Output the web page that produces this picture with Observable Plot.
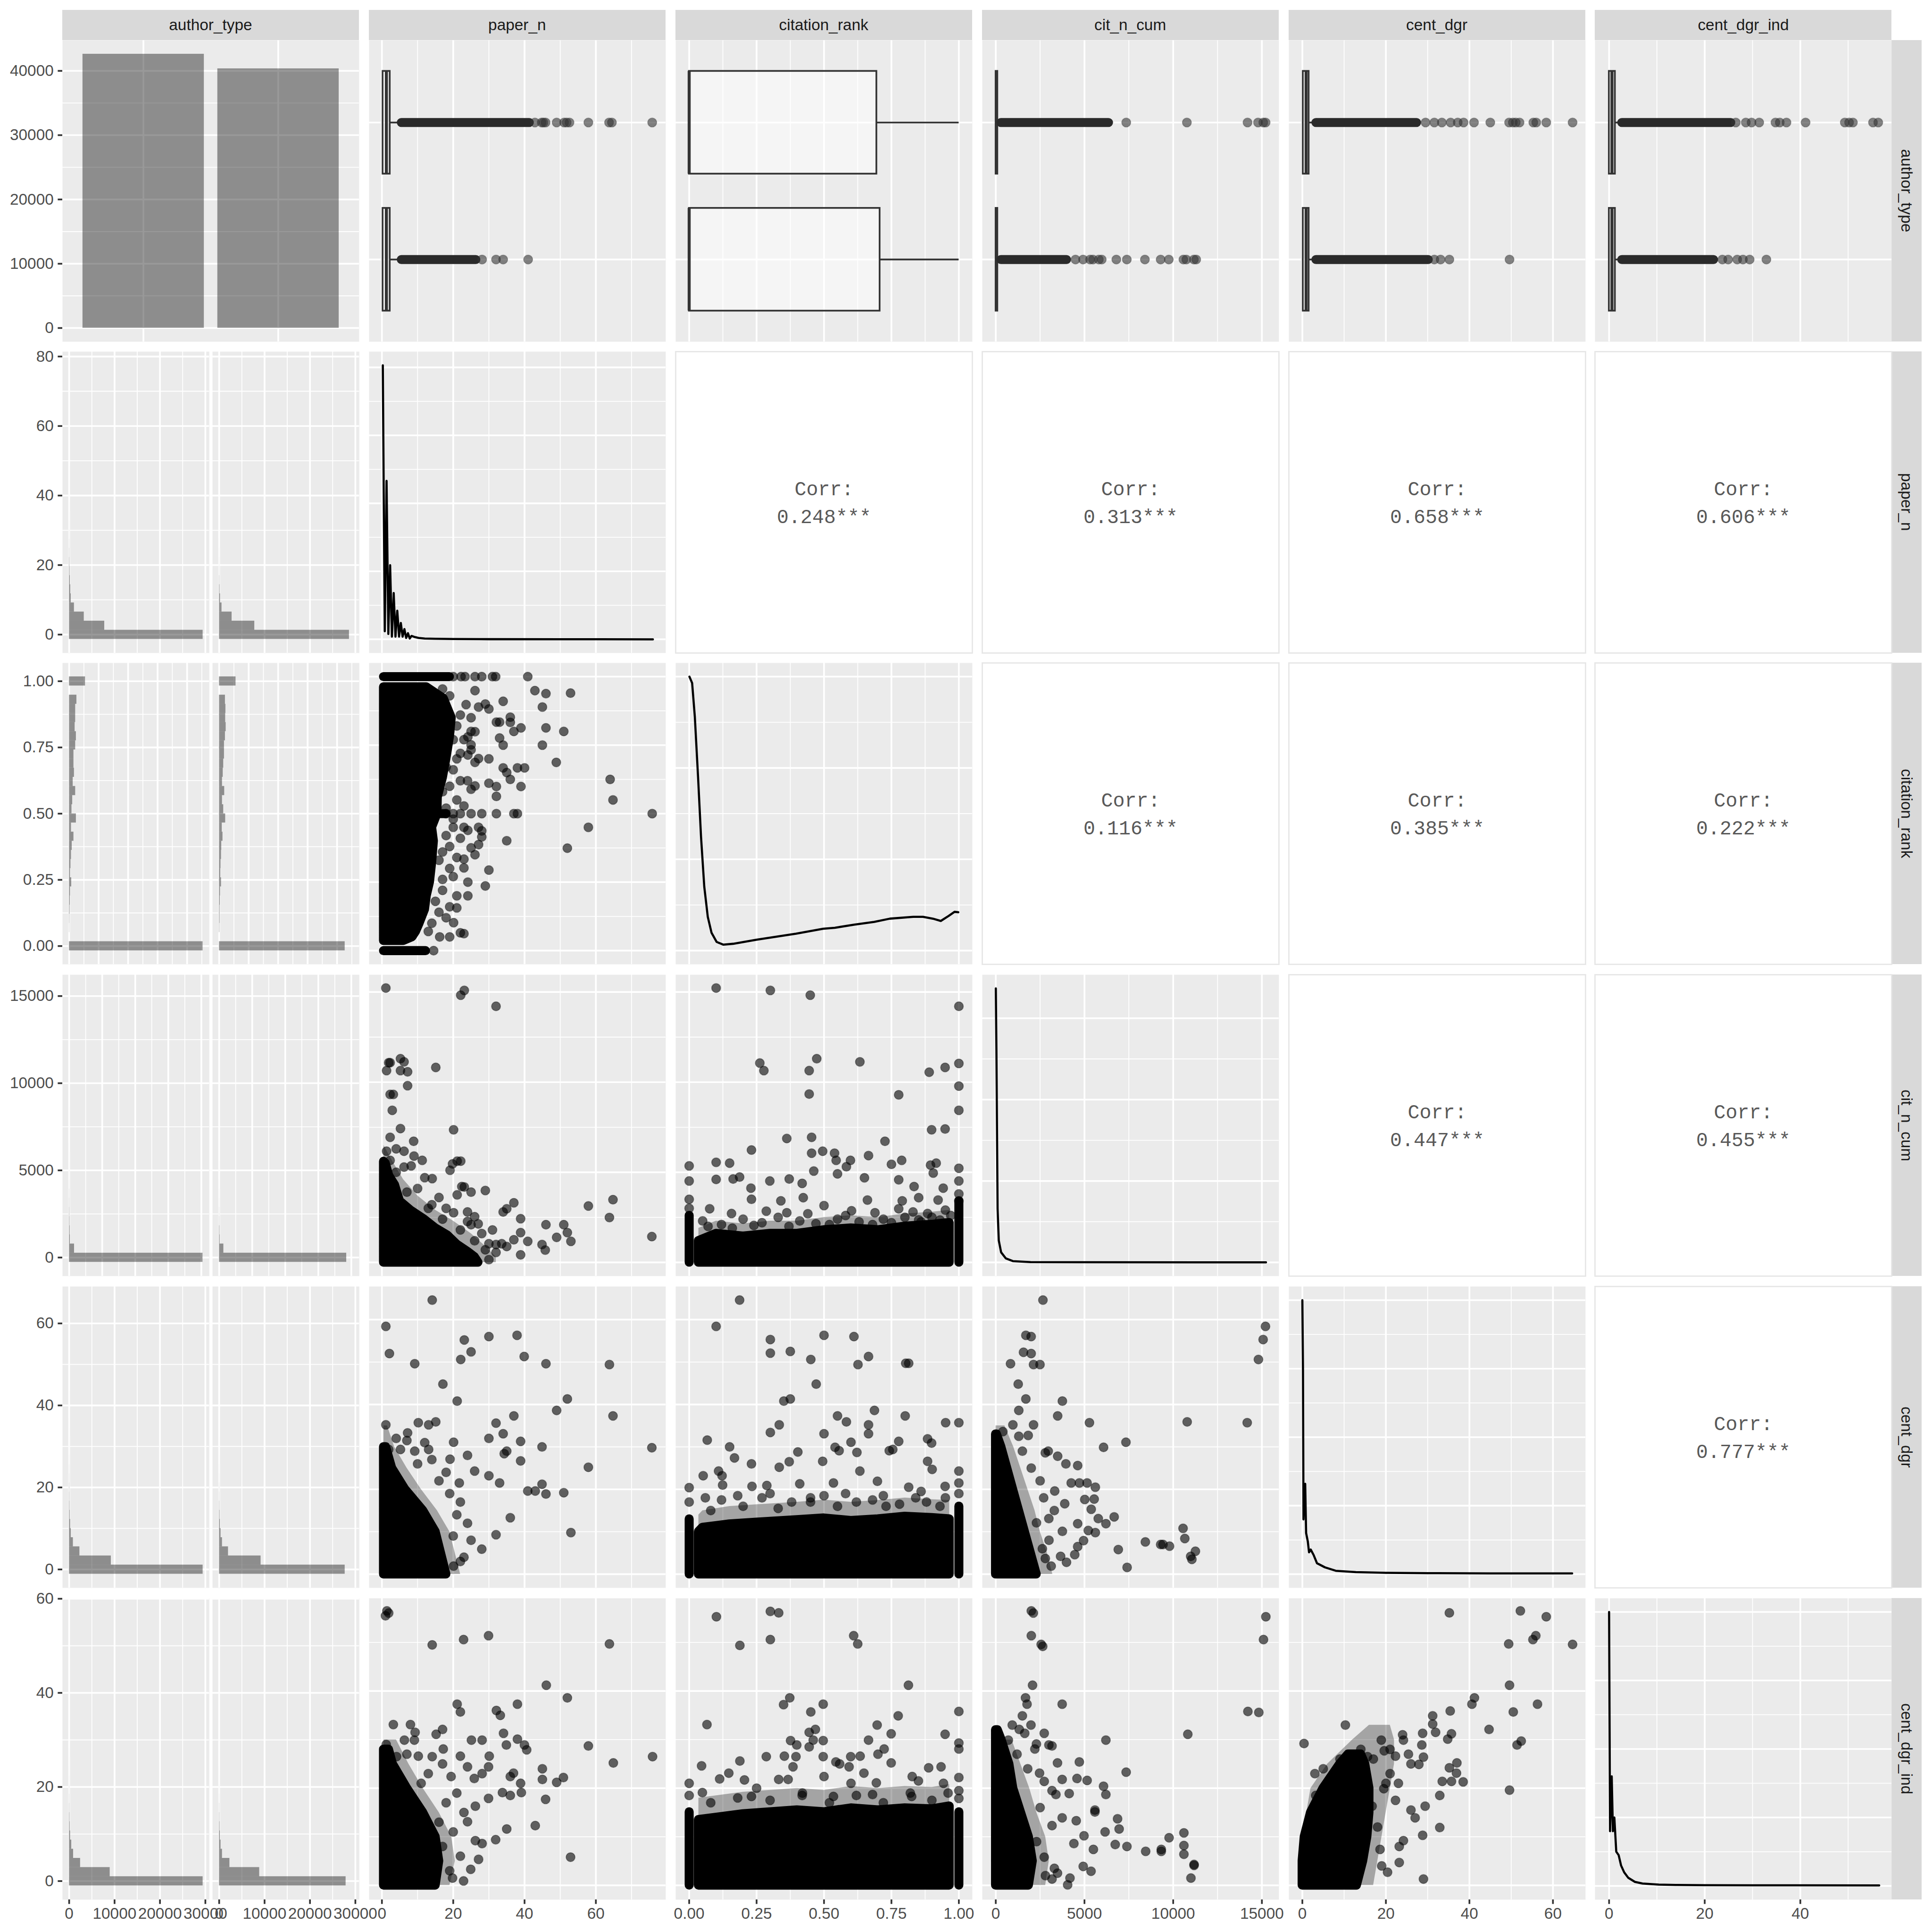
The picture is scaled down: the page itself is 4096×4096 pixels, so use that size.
<!DOCTYPE html>
<html><head><meta charset="utf-8">
<script src="https://cdn.jsdelivr.net/npm/d3@7"></script>
<script src="https://cdn.jsdelivr.net/npm/@observablehq/plot@0.6"></script>
<style>
html,body{margin:0;padding:0;background:#fff;}
#root{position:relative;width:4096px;height:4096px;background:#fff;overflow:hidden;font-family:"Liberation Sans",Arial,Helvetica,sans-serif;}
#root g[aria-label="x-axis tick label"], #root g[aria-label="y-axis tick label"]{fill:#4D4D4D;}
.strip{position:absolute;background:#D9D9D9;color:#1A1A1A;display:flex;align-items:center;justify-content:center;font-size:33.4px;line-height:1;}
.strip.v{writing-mode:vertical-rl;}
</style></head><body><div id="root"></div>
<script>
// ================= DATA =================
const variables = ["author_type","paper_n","citation_rank","cit_n_cum","cent_dgr","cent_dgr_ind"];
const authorTypes = ["type 1","type 2"];
const authorCounts = [42620, 40350];
const corrPairs = [[1,2],[1,3],[1,4],[1,5],[2,3],[2,4],[2,5],[3,4],[3,5],[4,5]];
const corrValues = [0.248, 0.313, 0.658, 0.606, 0.116, 0.385, 0.222, 0.447, 0.455, 0.777];

// tick labels / breaks
const ticks_count = [0,10000,20000,30000];
const ticks_count_bar = [0,10000,20000,30000,40000];
const ticks_pn = [0,20,40,60];
const ticks_pn_row = [0,20,40,60,80];
const ticks_cr = [0,0.25,0.5,0.75,1];
const ticks_cit = [0,5000,10000,15000];
const ticks_cd = [0,20,40,60];
const ticks_cdi = [0,20,40];
const ticks_cdi_row = [0,20,40,60];

// histogram bin widths (30 bins) and counts per author type
const binWidth = {paper_n: 2.621, citation_rank: 1/29, cit_n_cum: 525, cent_dgr: 2.228, cent_dgr_ind: 1.948};
const hist_paper_n = [
 [29450,7780,3270,1100,400,290,190,120,80,50,30,20,12,8,5,4,3,2,2,1,1,1,1,0,1,0,1,0,0,1],
 [28640,7790,2790,565,240,120,60,30,15,8,4,2,1,1,1,0,0,1,0,0,0,0,0,0,0,0,0,0,0,0]];
const hist_citation_rank = [
 [22670,0,33,54,96,138,180,389,180,263,347,472,765,347,1180,430,556,1060,640,850,765,765,1060,1180,970,1060,1060,1270,0,2730],
 [21330,0,59,100,100,142,184,351,226,268,351,393,602,477,1060,727,518,895,518,644,727,853,853,1020,1145,1060,1100,1020,0,2817]];
const hist_cit_n_cum = [
 [40430,1550,280,210,140,100,70,50,30,20,10,8,5,4,3,2,2,1,1,1,1,0,1,0,0,1,0,0,1,1],
 [38530,1340,210,140,70,40,20,10,5,3,2,1,1,1,0,1,0,0,1,0,0,1,0,0,0,0,0,0,0,0]];
const hist_cent_dgr = [
 [29450,9230,2310,870,410,260,150,100,70,50,35,25,15,10,8,5,4,3,2,2,1,1,1,1,0,1,0,0,1,1],
 [27700,9180,2000,670,360,200,120,70,40,25,15,10,5,3,2,1,1,0,1,0,0,0,1,0,0,0,0,0,0,0]];
const hist_cent_dgr_ind = [
 [29450,8980,2460,920,510,260,150,100,60,40,25,15,10,8,5,3,2,2,1,1,1,1,0,0,1,1,1,0,0,1],
 [27900,8870,2310,670,360,200,120,70,40,20,10,5,3,2,1,1,1,0,0,0,0,0,0,0,0,0,0,0,0,0]];

// boxplot stats per author type: [q1, median, q3, whiskerLow, whiskerHigh]
const box_paper_n = [[0.25,1.25,2.25,0.25,5.2],[0.25,1.25,2.25,0.25,5.2]];
const box_citation_rank = [[0,0,0.695,0,1],[0,0,0.707,0,1]];
const box_cit_n_cum = [[5,30,100,0,240],[5,30,100,0,240]];
const box_cent_dgr = [[0.16,0.9,1.56,0,3.0],[0.16,0.9,1.56,0,3.0]];
const box_cent_dgr_ind = [[0,0.6,1.26,0,2.4],[0,0.6,1.26,0,2.4]];
// runs of overlapping outliers [from, to] per author type
const boxrun_paper_n = [[5.5,41.4],[5.5,26.4]];
const boxrun_cit_n_cum = [[300,6368],[300,4001]];
const boxrun_cent_dgr = [[3.3,27.4],[3.3,30.2]];
const boxrun_cent_dgr_ind = [[2.7,25.5],[2.7,21.9]];
const boxrun_citation_rank = [];
// single outliers per author type
const boxout_paper_n = [[42.9,44.8,45.3,45.9,49,51.1,51.8,52.6,57.9,63.7,64.5,75.8],[28.1,32,34,41]];
const boxout_citation_rank = [[],[]];
const boxout_cit_n_cum = [[7354,10772,14190,14782,15078,15209],[4494,4922,5316,5480,5809,5974,6795,7387,8406,9293,9753,10575,10740,11167,11298]];
const boxout_cent_dgr = [[29.5,31.6,33.4,35.5,37.2,38.6,41.1,45,49.5,50.4,51.1,52,55.3,56,58.4,64.7],[31.6,33.1,35.2,49.6]];
const boxout_cent_dgr_ind = [[26.5,28.6,29.8,31.4,34.8,35.7,37.1,41.1,49.3,50.2,51,55.2,56.3],[23.7,24.9,26.8,28,29.4,32.9]];

// densities on the diagonal [x, density]
const dens_paper_n = [[0.25,4.03],[0.55,1.8],[0.8,0.12],[1.05,1.2],[1.3,2.33],[1.55,1.2],[1.8,0.08],[2.05,0.6],[2.3,1.09],[2.55,0.56],[2.8,0.04],[3.05,0.36],[3.3,0.68],[3.55,0.36],[3.8,0.04],[4.05,0.24],[4.3,0.42],[4.55,0.24],[4.8,0.04],[5.3,0.24],[5.8,0.04],[6.3,0.15],[6.8,0.02],[7.3,0.09],[7.8,0.012],[8.3,0.05],[9.3,0.032],[10.3,0.02],[12,0.012],[15,0.008],[20,0.004],[30,0.002],[50,0.001],[76,0]];
const dens_citation_rank = [[0.001,6.0],[0.011,5.86],[0.021,5.12],[0.033,3.8],[0.044,2.49],[0.056,1.4],[0.069,0.74],[0.083,0.39],[0.102,0.19],[0.127,0.13],[0.163,0.15],[0.25,0.24],[0.396,0.37],[0.497,0.48],[0.54,0.5],[0.613,0.57],[0.686,0.63],[0.744,0.7],[0.831,0.74],[0.867,0.74],[0.904,0.7],[0.933,0.65],[0.962,0.76],[0.984,0.85],[0.998,0.84]];
const dens_cit_n_cum = [[4,16.83],[37,13.06],[70,8.18],[103,3.3],[170,1.35],[302,0.62],[567,0.25],[966,0.08],[1961,0.02],[5000,0.01],[15232,0.005]];
const dens_cent_dgr = [[0,4],[0.15,3],[0.27,0.8],[0.5,1.2],[0.68,1.32],[0.9,0.6],[1.3,0.48],[1.6,0.32],[2,0.36],[2.7,0.28],[3.5,0.16],[5.4,0.1],[8,0.05],[12.8,0.03],[20,0.02],[30,0.015],[45,0.012],[64.6,0.012]];
const dens_cent_dgr_ind = [[0,4],[0.1,2.4],[0.2,0.8],[0.55,1.6],[0.8,0.8],[1.1,1.0],[1.5,0.5],[2,0.45],[2.5,0.3],[3.15,0.2],[4,0.12],[5.4,0.06],[7,0.035],[10.4,0.02],[13.9,0.015],[20,0.012],[30,0.01],[56.5,0.008]];
const densMax = {paper_n: 4.03, citation_rank: 6.0, cit_n_cum: 16.83, cent_dgr: 4, cent_dgr_ind: 4};
const densTicks = {paper_n: [[0,1,2,3,4],[0.5,1.5,2.5,3.5]], citation_rank: [[0,2,4,6],[1,3,5]], cit_n_cum: [[0,5,10,15],[2.5,7.5,12.5]], cent_dgr: [[0,1,2,3,4],[0.5,1.5,2.5,3.5]], cent_dgr_ind: [[0,1,2,3,4],[0.5,1.5,2.5,3.5]]};

// ---- scatter points [x, y] (lower triangle) ----
const pts_cr_pn = [[20,1],[22.2,1],[23.3,1],[26.1,1],[28,1],[31,1],[31.9,1],[40.9,1],[42.9,0.949],[46,0.938],[52.9,0.94],[26.1,0.949],[34,0.91],[45,0.889],[29,0.9],[30,0.882],[27.1,0.889],[23.6,0.898],[25,0.85],[36,0.852],[36,0.833],[32.1,0.834],[33,0.834],[39,0.813],[46,0.813],[51,0.8],[37,0.8],[33,0.776],[25,0.8],[26.1,0.799],[24.1,0.78],[25,0.751],[34,0.75],[45,0.75],[25,0.733],[24.1,0.714],[27.1,0.701],[30,0.7],[26.1,0.687],[48.9,0.687],[34,0.667],[38,0.667],[40,0.667],[35,0.65],[36,0.625],[64,0.625],[30,0.611],[32.1,0.599],[39,0.599],[26.1,0.601],[25,0.589],[32.1,0.563],[64.8,0.55],[23,0.528],[28,0.5],[32.1,0.5],[37,0.5],[38,0.5],[75.8,0.5],[25,0.5],[57.9,0.45],[27.1,0.45],[28,0.437],[24.1,0.439],[28,0.415],[35,0.401],[52,0.374],[27.1,0.387],[25,0.375],[26.1,0.35],[23,0.334],[30,0.294],[23,0.302],[29,0.236],[24.1,0.25],[24.1,0.2],[21,0.2],[21,0.156],[20.1,0.102],[23,0.062],[22,0.065],[19,0.05],[16.2,0.05],[14.5,0],[21,0.55],[22,0.62],[20,0.45],[19,0.3],[22,0.72],[21,0.82],[19,0.93],[17,0.955],[18,0.12],[17,0.26],[19,0.38],[20,0.66],[17,0.9],[18,0.85],[19,0.8],[20,0.77],[21,0.7],[18,0.67],[19,0.6],[17,0.58],[18,0.52],[20,0.48],[18,0.42],[17,0.36],[16,0.33],[17,0.22],[15,0.18],[16,0.14],[14,0.1],[13,0.07],[22,0.86],[23,0.77],[22,0.41],[21,0.34],[20,0.27],[19,0.16],[24,0.62],[23,0.45],[20,0.5],[22,0.5],[18,0.5]];
const pts_cit_pn = [[1.1,15222],[22.1,14825],[23.1,15090],[32,14209],[1.9,11081],[2.3,11081],[1.3,10640],[5.2,11301],[6.2,11125],[5.2,10640],[7.2,10574],[15.1,10816],[7.2,9803],[2.3,9319],[3.2,9319],[2.9,8438],[20.1,7358],[2.3,6940],[5.2,7424],[8.9,6720],[1.3,6169],[6.2,6169],[2.3,5662],[11.3,5662],[8.2,5354],[6.2,5288],[22.1,5618],[19.8,5464],[19.1,5112],[1.9,4561],[1.3,4076],[14.1,4649],[23.1,4186],[21.1,3746],[25,3900],[29,3988],[37,3305],[35,2975],[34,2799],[38.9,2424],[46,2093],[51,2093],[52,1653],[53,1169],[49,1389],[57.9,3129],[64.8,3481],[63.8,2490],[75.7,1433],[44.9,992],[45.8,684],[38.9,1653],[40.9,1169],[37,1257],[35,882],[32,992],[30,1036],[38.9,420],[32,552],[33.6,1036],[30,155],[26,2534],[25,2093],[24,2270],[27,2138],[20.1,2755],[22.4,4208],[21.1,5618],[4,6300],[9,5900],[12,4700],[16,3600],[18,3000],[10,4100],[14,3200],[28,1600],[31,1800],[22,1800],[26,1200],[29,700],[24,2800],[17,2400],[13,3000],[7,3900],[4,5000]];
const pts_cit_cr = [[0.1,15222],[0.301,15090],[0.449,14825],[1,14209],[0.262,11059],[0.277,10640],[0.445,10640],[0.473,11301],[0.633,11125],[0.445,9341],[0.777,9297],[0.89,10552],[0.949,10816],[1,11037],[1,9781],[1,8438],[0.899,7358],[0.949,7402],[0.362,6874],[0.726,6720],[0.454,6940],[0.454,6059],[0.231,6235],[0.495,6169],[0.539,6059],[0.545,5662],[0.598,5662],[0.665,5926],[0.788,5662],[0.916,5508],[0.905,4957],[0.895,5398],[0.75,5442],[0.583,5310],[0.462,5068],[0.1,5552],[0.15,5508],[0.1,4605],[0,5354],[0,4517],[0.187,4737],[0.163,4627],[0.229,4120],[0.371,4627],[0.419,4384],[0.55,4913],[0.65,4693],[0.777,4583],[0.834,4208],[0.942,4120],[1,5222],[1,4517],[1,3415],[0.299,4517],[0.231,3503],[0.34,3415],[0.423,3591],[0.5,3151],[0.661,3459],[0.79,3415],[0.851,3591],[0.923,3459],[0.602,2865],[0.362,2755],[0.076,2975],[0.157,2711],[0.689,2755],[0.777,2975],[0.884,2711],[0.851,2358],[0.286,2843],[0.05,2300],[0.12,2100],[0.2,2400],[0.27,2200],[0.33,2500],[0.41,2300],[0.47,2150],[0.55,2400],[0.63,2250],[0.72,2400],[0.8,2500],[0.86,2250],[0.93,2350],[0.97,2600],[0,3000],[0,3500],[1,3800],[0.07,2000],[0.16,1900],[0.24,2050],[0.37,2000],[0.44,2700],[0.52,2100],[0.58,2600],[0.68,2100],[0.75,2200],[0.83,2800],[0.9,2500],[0.95,2900]];
const pts_cd_pn = [[14.1,64.6],[1.1,58.4],[2.1,52],[9.2,49.6],[23.1,55.2],[30,56],[37.9,56.3],[25,52.4],[22.1,50.6],[39.9,51.3],[46,49.6],[63.8,49.4],[17.1,44.8],[21.1,40.8],[52,41.3],[49,38.6],[64.8,37.3],[37,37.3],[32,35.6],[34,33.1],[30,32],[38.9,31.3],[20.1,31.1],[15.1,35.9],[10.2,35.7],[13.1,35.2],[1.1,35.2],[7.2,33.3],[44.9,30],[75.7,29.8],[35,29],[34.3,28.4],[38.9,26.7],[57.9,25.2],[44.9,21.2],[40.9,19.6],[43,19.6],[46,18.9],[51,19.2],[36,13.3],[53,9.8],[32,9.3],[28,5.9],[20.1,1.9],[30,23.2],[26,24.3],[33,21.5],[24,28],[19.1,27.1],[13.1,29.4],[9.2,29],[5.2,29.4],[1.9,29.4],[21.7,21.5],[18,24],[14,27],[22,17],[24,12],[25,8],[23,4],[12,31],[7,31.5],[19,19],[21,14],[20,9],[22,3],[16,22],[10,26],[4,32]];
const pts_cd_cr = [[0.187,64.6],[0.1,58.4],[0.301,55.3],[0.5,56.3],[0.611,56],[0.301,52.1],[0.375,52.5],[0.451,50.6],[0.665,51.3],[0.626,49.4],[0.803,49.7],[0.814,49.7],[0.471,44.8],[0.351,40.8],[0.375,41.3],[0.687,38.6],[0.55,37.3],[0.801,37.3],[0.951,35.7],[1,35.7],[0.334,35.2],[0.583,35.9],[0.665,35.2],[0.665,33.1],[0.5,33.1],[0.301,33.4],[0.067,31.6],[0.15,30],[0.231,26],[0.168,27.4],[0,20.4],[0.052,23.2],[0.109,24.3],[0.122,23.2],[0.541,29.9],[0.556,29.1],[0.6,31.1],[0.742,29.1],[0.884,31.9],[0.899,30.9],[0.777,31.3],[0.884,26.6],[0.949,20.7],[0.901,24.7],[0.755,29.4],[0.622,28.7],[0.403,28.8],[0.371,26.5],[0.334,25.2],[0.495,26.6],[0.633,24.3],[0.233,20.7],[0.288,20.9],[0.41,21.3],[0.535,21.5],[0.698,21.9],[0.814,20.5],[0.124,21],[1,24.3],[1,21.5],[0.06,18],[0.18,18.5],[0.3,19],[0.45,18],[0.58,19],[0.72,18.5],[0.86,19.5],[0.95,18],[0,17],[1,19],[0.08,15],[0.2,16],[0.33,15.5],[0.45,17],[0.55,16],[0.68,17.5],[0.78,16.5],[0.88,17],[0.93,16],[0.12,17.5],[0.27,18],[0.38,17],[0.5,18.5],[0.62,17],[0.73,16],[0.84,18]];
const pts_cd_cit = [[2659,64.6],[1696,56.3],[1995,56],[1564,52.3],[1995,52],[832,49.6],[2128,49.4],[2493,49.4],[1265,44.8],[1696,41.3],[3754,40.8],[1298,38.6],[3489,37.3],[5280,35.7],[10788,35.9],[14172,35.7],[15201,58.4],[15069,55.3],[14804,50.6],[2128,35.2],[965,35.2],[401,33.6],[1829,32.7],[1298,32.5],[7337,31.1],[6076,29.9],[3953,26],[4617,25.6],[2792,28.6],[2957,29],[3489,27.8],[4252,21.5],[4716,21.5],[5147,21.5],[5612,20.5],[5015,17.6],[5546,17.7],[5380,15.3],[6674,13.5],[6209,11.9],[5778,13.1],[4617,11.9],[5214,10.3],[5612,9.8],[4948,7.9],[4617,6.5],[4451,4.6],[3986,2.8],[3754,10.1],[3655,4.2],[6906,5.8],[7403,1.6],[8432,7.6],[9295,7],[9428,7],[9793,6.6],[10556,10.8],[10655,8.4],[10987,4.2],[11053,3.5],[11252,5.4],[2626,6],[2792,3.7],[3124,1.9],[2294,12.1],[2991,13.1],[3887,16.6],[3323,19.6],[2500,22],[2000,25],[1500,29],[3000,8],[3300,15],[2700,18]];
const pts_cdi_pn = [[1.4,56.5],[1,55.5],[1.9,56.06],[14.1,49.5],[22.9,50.6],[29.9,51.4],[63.8,49.7],[46.1,41.2],[52,38.6],[21.1,37.3],[22,35.7],[38,37.3],[32.1,36],[33.2,35],[3.2,33.1],[8,33.1],[9.3,31.5],[17,32.1],[15.2,31.1],[34.1,31.3],[6.3,29.9],[9.1,29.9],[25.1,29.9],[28.1,29.9],[38,30.1],[34.9,28.9],[39.97,28.9],[40.6,27.9],[57.9,28.7],[75.9,26.5],[64.9,25.2],[1.2,29],[17.2,28.07],[1.4,25.6],[4.1,26.5],[10.2,26.6],[14.1,26.5],[22,26.6],[30.1,26.6],[17,25],[24,24.4],[29.9,24.4],[36,22.4],[36.9,23.1],[45,24],[45,21.8],[50.9,22.2],[49,21.2],[38.9,21],[28.1,23],[25.9,22],[19.4,22.4],[33.8,19.1],[36,18.5],[39.1,19.1],[45.9,17.7],[29.9,17.9],[43,12.3],[35,11.6],[31.9,9.4],[28.1,8.6],[27.1,5.35],[52.9,5.8],[24.9,3.3],[22.9,0.9],[19.8,1.5],[26.2,9.2],[24,13.1],[26.2,16.3],[21,19],[23,15],[20,11],[22,6],[13,23],[7,27],[18,17],[17,8],[19,3],[16,13],[11,21]];
const pts_cdi_cr = [[0.101,55.3],[0.301,56.4],[0.332,56.1],[0.301,50.6],[0.188,49.4],[0.61,51.4],[0.625,49.7],[0.813,41.2],[0.373,38.6],[0.35,37.2],[0.497,37.3],[0.451,35.7],[0.066,33.1],[1,35.8],[0.775,34.9],[0.697,33],[0.445,31.5],[0.468,32.1],[0.749,31.2],[0.949,31.1],[0.376,29.8],[0.46,29.9],[0.497,29.8],[0.665,29.9],[0.399,28.9],[0.445,28.5],[1,29.3],[1,28.07],[0.723,28.07],[0.286,26.5],[0.353,26.6],[0.396,26.5],[0.497,26.5],[0.599,26.5],[0.634,26.6],[0.7,27],[0.544,25.4],[0.558,25],[0.046,24.6],[0.188,25.6],[0.147,23.1],[0.385,24.4],[0.593,24.4],[0.749,25.2],[0.888,24.2],[0.827,22.4],[0.648,23.1],[0.5,22.4],[0.332,21.8],[0.367,21.8],[0,21],[0.113,21.9],[0.205,21.7],[0.694,21.1],[0.943,21],[1,22.2],[0.934,24.4],[0,18.5],[0.049,19.1],[1,19.5],[1,17.9],[0.419,18.5],[0.535,18.3],[0.68,18.7],[0.825,18.3],[0.231,18.3],[0.08,17],[0.18,18],[0.3,17.5],[0.42,19],[0.52,17],[0.62,18.5],[0.72,17],[0.82,19],[0.9,17.5],[0.96,19],[0.25,20],[0.6,21],[0.85,21.5]];
const pts_cdi_cit = [[2004,56.5],[2117,56.06],[2004,51.4],[2559,49.6],[2646,49.2],[2073,41.2],[15222,55.3],[15090,50.6],[1676,38.6],[1763,37.3],[3743,37.3],[14210,35.8],[14826,35.6],[1500,34.9],[929,33],[1984,33],[1324,32.1],[1632,31.3],[2731,31.3],[10824,31.1],[6207,29.9],[709,29.9],[2291,29.1],[2203,28.07],[2995,28.9],[3171,28.7],[3479,25.2],[4711,25.4],[7349,23.3],[2467,23.1],[3743,21.8],[4578,22],[5150,21.6],[6074,20.4],[6206,18.7],[2731,21.4],[3171,19.5],[4139,18.9],[3391,18.7],[5589,15.5],[5589,15.1],[6865,13.7],[6953,11.6],[4535,13.3],[3743,13.9],[3171,12.3],[6162,11],[4974,10.2],[4403,8.6],[5502,7.4],[6733,8.4],[7393,8],[8449,7],[9329,7.4],[9329,7],[9769,9.8],[10604,10.8],[10604,8.2],[10604,6.4],[11176,4.1],[11000,1.5],[11176,4.3],[4930,3.9],[5370,2.9],[4183,1.5],[3171,1.3],[3479,2.5],[4051,0.1],[3303,3.5],[2731,5.8],[2500,16],[2300,9],[2800,2],[1800,24],[1200,27]];
const pts_cdi_cd = [[35.2,56.1],[52.2,56.5],[58.4,55.3],[55.9,51.4],[55.2,50.6],[64.7,49.6],[49.4,49.7],[49.6,41.2],[41.2,38.6],[40.6,37.3],[56.3,37.3],[35.4,35.9],[50.5,35.7],[31.2,34.9],[31.2,33.2],[10.3,33],[44.7,32.1],[28.8,31.3],[35.7,31.2],[31.9,31.5],[52.4,29.7],[51.4,28.9],[34.8,30.1],[0.4,29.2],[18.9,29.9],[24.2,29.9],[28.6,28.9],[25.4,27],[22.3,26.6],[15.6,26.5],[19.6,27.7],[29,26.4],[37,25.2],[35.2,24.2],[36.9,23.1],[27.9,24.9],[11.5,25.2],[33.5,21.4],[35.7,21.4],[38.5,21.3],[49.6,19.6],[32.9,18.5],[29.4,16.3],[16.7,16.3],[3.2,18.5],[27,13.9],[28.8,10.3],[32.9,11.9],[24.2,9.2],[23.2,8],[23.2,4.7],[29,1.3],[20.4,2.7],[18.6,7.4],[26,15.5],[22.3,17.5],[19.5,19.9],[12,22],[15,24],[20,21],[8,21],[5,24],[18,12],[19,4],[21,23],[17,26],[24,31],[21,28],[26,25],[23,21],[14,28],[9,26],[3,23]];

// dense cores: [y, xFrom, xTo] (horizontal spans) or [x, yFrom, yTo] (vertical spans)
const core_cr_pn = [[0.036,0.5,6],[0.05,0.5,8.5],[0.07,0.5,9.5],[0.1,0.5,10.5],[0.15,0.5,12],[0.2,0.5,12.5],[0.25,0.5,13.4],[0.32,0.5,14],[0.4,0.5,14.5],[0.45,0.5,14],[0.5,0.5,15.5],[0.56,0.5,15.6],[0.63,0.5,17],[0.7,0.5,18],[0.78,0.5,19],[0.85,0.5,19.5],[0.92,0.5,17.3],[0.962,0.5,12.5]];
const runs_cr_pn = [[1,0.5,19],[0,0.5,12.3],[0.5,0.5,18]];
const core_cit_pn = [[0.5,0,5600],[1,0,5500],[2,0,4800],[3.6,0,4300],[5,0,3400],[8,0,2900],[11.8,0,2400],[15,0,1900],[18.4,0,1500],[21,0,1000],[24,0,600],[26,0,300],[27,0,0]];
const halo_cit_pn = [[0.5,0,6500],[3,0,5600],[6,0,4600],[10,0,3700],[15,0,2900],[20,0,2300],[25,0,1600],[29,0,900],[32,0,300]];
const core_cit_cr = [[0.035,0,1200],[0.1,0,1600],[0.2,0,1450],[0.3,0,1600],[0.4,0,1600],[0.5,0,1800],[0.6,0,1900],[0.7,0,1800],[0.8,0,2000],[0.9,0,2100],[0.965,0,2200]];
const halo_cit_cr = [[0.035,0,1900],[0.1,0,2300],[0.2,0,2150],[0.3,0,2300],[0.4,0,2300],[0.5,0,2500],[0.6,0,2600],[0.7,0,2500],[0.8,0,2700],[0.9,0,2800],[0.965,0,2900]];
const runs_cit_cr = [[0,0,2600],[1,0,3400]];
const core_cd_pn = [[0,0.5,18],[5,0.5,16.5],[10,0.5,15],[15,0.5,11.5],[20,0.5,6.5],[25,0.5,2.8],[30,0.5,1.1]];
const halo_cd_pn = [[0,0.5,22],[5,0.5,20.5],[10,0.5,19],[15,0.5,15.5],[20,0.5,11],[25,0.5,7],[30,0.5,3.5],[35,0.5,1.5]];
const core_cd_cr = [[0.035,0,10],[0.05,0,11],[0.15,0,11.8],[0.25,0,12.2],[0.4,0,12.8],[0.5,0,13.2],[0.6,0,12.6],[0.7,0,13],[0.8,0,13.6],[0.9,0,13.3],[0.965,0,13]];
const halo_cd_cr = [[0.035,0,14],[0.05,0,15],[0.15,0,16],[0.25,0,16.4],[0.4,0,17],[0.5,0,17.5],[0.6,0,17],[0.7,0,17.4],[0.8,0,18],[0.9,0,17.6],[0.965,0,17.4]];
const runs_cd_cr = [[0,0,13],[1,0,16]];
const core_cd_cit = [[0,0,2294],[5,0,1962],[10,0,1630],[15,0,1298],[20,0,965],[25,0,634],[30,0,302],[33,0,50]];
const halo_cd_cit = [[0,0,3200],[5,0,2900],[10,0,2500],[15,0,2200],[20,0,1800],[25,0,1400],[30,0,1000],[35,0,500]];
const core_cdi_pn = [[0,0.5,15],[5,0.5,16],[10,0.5,15],[15,0.5,11.5],[20,0.5,7],[25,0.5,3],[28,0.5,1.9]];
const halo_cdi_pn = [[0,0.5,19],[5,0.5,20.5],[10,0.5,19.5],[15,0.5,16],[20,0.5,11.5],[25,0.5,7.5],[30,0.5,4]];
const core_cdi_cr = [[0.035,0,13.5],[0.2,0,14.7],[0.4,0,15.5],[0.5,0,15.1],[0.6,0,15.9],[0.7,0,15.5],[0.8,0,15.9],[0.9,0,15.7],[0.965,0,16.3]];
const halo_cdi_cr = [[0.035,0,18],[0.2,0,19.2],[0.4,0,20],[0.5,0,19.6],[0.6,0,20.4],[0.7,0,20],[0.8,0,20.4],[0.9,0,20.2],[0.965,0,20.8]];
const runs_cdi_cr = [[0,0,15.1],[1,0,15.1]];
const core_cdi_cit = [[0,0,1852],[5,0,2072],[10,0,1852],[15,0,1412],[20,0,973],[25,0,753],[30,0,313],[32,0,100]];
const halo_cdi_cit = [[0,0,2800],[5,0,3000],[10,0,2800],[15,0,2300],[20,0,1900],[25,0,1400],[30,0,900]];
const core_cdi_cd = [[0,0,13],[5,0,14.5],[10,0.5,15.5],[15,2,16],[20,5,16],[25,9,15],[27,11,14]];
const halo_cdi_cd = [[0,0,17],[10,0,19],[20,2,21],[25,6,22],[30,12,22],[33,16,21]];

// ================= RENDER =================
const S = 4096 / 4500;
const s = v => v * S;
const root = document.getElementById("root");
const FONT = '"Liberation Sans", Arial, Helvetica, sans-serif';
const MONO = '"Liberation Mono", "Courier New", monospace';
const COL_X = [145, 859, 1573, 2287, 3001, 3715];
const ROW_Y = [93, 818, 1544, 2270, 2996, 3722];
const PW = 691, PH = 702, FW = 342, FGAP = 7;
const BG = "#EBEBEB";
const DOT_R = s(10.5);
const GMAJ = s(4), GMIN = s(2);
const AX_FONT = s(36.7);
const HALO_OP = 0.3;
const fmtInt = d => String(d);
const fmt2 = d => d.toFixed(2);

const xVar = {
  paper_n: {domain: [-3.6, 79.6], major: ticks_pn, minor: [10,30,50,70]},
  citation_rank: {domain: [-0.05, 1.05], major: ticks_cr, minor: [0.125,0.375,0.625,0.875], fmt: fmt2},
  cit_n_cum: {domain: [-760, 15960], major: ticks_cit, minor: [2500,7500,12500]},
  cent_dgr: {domain: [-3.23, 67.8], major: ticks_cd, minor: [10,30,50]},
  cent_dgr_ind: {domain: [-2.95, 59.1], major: ticks_cdi, minor: [10,30,50]}
};
const yHist = {
  paper_n: {domain: [-5.3, 81.4], major: ticks_pn_row, minor: [10,30,50,70]},
  citation_rank: {domain: [-0.069, 1.069], major: ticks_cr, minor: [0.125,0.375,0.625,0.875], fmt: fmt2},
  cit_n_cum: {domain: [-1066, 16224], major: ticks_cit, minor: [2500,7500,12500]},
  cent_dgr: {domain: [-4.5, 69.0], major: ticks_cd, minor: [10,30,50]},
  cent_dgr_ind: {domain: [-3.95, 60.1], major: ticks_cdi_row, minor: [10,30,50]}
};
const countScale = {
  paper_n: {domain: [-1470, 30870], major: ticks_count, minor: [5000,15000,25000]},
  citation_rank: {domain: [-1132, 23772], major: [0,5000,10000,15000,20000], minor: [2500,7500,12500,17500,22500]},
  cit_n_cum: {domain: [-2020, 42420], major: [0,10000,20000,30000,40000], minor: [5000,15000,25000,35000]},
  cent_dgr: {domain: [-1470, 30870], major: ticks_count, minor: [5000,15000,25000]},
  cent_dgr_ind: {domain: [-1470, 30870], major: ticks_count, minor: [5000,15000,25000]}
};
const hists = {paper_n: hist_paper_n, citation_rank: hist_citation_rank, cit_n_cum: hist_cit_n_cum, cent_dgr: hist_cent_dgr, cent_dgr_ind: hist_cent_dgr_ind};
const dens = {paper_n: dens_paper_n, citation_rank: dens_citation_rank, cit_n_cum: dens_cit_n_cum, cent_dgr: dens_cent_dgr, cent_dgr_ind: dens_cent_dgr_ind};
const boxes = {
  paper_n: [box_paper_n, boxrun_paper_n, boxout_paper_n],
  citation_rank: [box_citation_rank, boxrun_citation_rank, boxout_citation_rank],
  cit_n_cum: [box_cit_n_cum, boxrun_cit_n_cum, boxout_cit_n_cum],
  cent_dgr: [box_cent_dgr, boxrun_cent_dgr, boxout_cent_dgr],
  cent_dgr_ind: [box_cent_dgr_ind, boxrun_cent_dgr_ind, boxout_cent_dgr_ind]
};

function mountPanel(o) {
  const ml = o.left ? s(145) : 0;
  const mb = o.bottom ? s(78) : 0;
  const w = s(o.w || PW), h = s(PH);
  const svg = Plot.plot({
    width: w + ml, height: h + mb,
    marginLeft: ml, marginRight: 0, marginTop: 0, marginBottom: mb, inset: 0,
    x: {domain: o.xDomain, axis: null},
    y: {domain: o.yDomain, axis: null, reverse: !!o.yReverse},
    style: {fontFamily: FONT, background: "transparent", overflow: "visible"},
    marks: o.marks
  });
  svg.style.position = "absolute";
  svg.style.left = (s(o.x) - ml) + "px";
  svg.style.top = s(o.y) + "px";
  root.appendChild(svg);
}
function gridMarks(xt, yt) {
  const m = [];
  if (xt && xt.minor) m.push(Plot.ruleX(xt.minor, {stroke: "white", strokeWidth: GMIN}));
  if (yt && yt.minor) m.push(Plot.ruleY(yt.minor, {stroke: "white", strokeWidth: GMIN}));
  if (xt) m.push(Plot.ruleX(xt.major, {stroke: "white", strokeWidth: GMAJ}));
  if (yt) m.push(Plot.ruleY(yt.major, {stroke: "white", strokeWidth: GMAJ}));
  return m;
}
function axLeft(t) {
  return Plot.axisY(t.major, {anchor: "left", tickSize: s(10.5), tickPadding: s(10), fontSize: AX_FONT, color: "#333333", strokeWidth: s(4), tickFormat: t.fmt || fmtInt});
}
function axBottom(t) {
  return Plot.axisX(t.major, {anchor: "bottom", tickSize: s(10.5), tickPadding: s(8), fontSize: AX_FONT, color: "#333333", strokeWidth: s(4), tickFormat: t.fmt || fmtInt});
}
function dots(pts, color) {
  return Plot.dot(pts, {x: d => d[0], y: d => d[1], r: DOT_R, fill: color || "black", fillOpacity: 0.6, stroke: color || "black", strokeOpacity: 0.35, strokeWidth: s(2), clip: true});
}
function coreX(rows, op) { // rows [y, x1, x2]
  return Plot.areaX(rows, {y: d => d[0], x1: d => d[1], x2: d => d[2], fill: "black", fillOpacity: op, stroke: op === 1 ? "black" : "none", strokeWidth: 2 * DOT_R, strokeLinejoin: "round", curve: "linear", clip: true});
}
function coreY(rows, op) { // rows [x, y1, y2]
  return Plot.areaY(rows, {x: d => d[0], y1: d => d[1], y2: d => d[2], fill: "black", fillOpacity: op, stroke: op === 1 ? "black" : "none", strokeWidth: 2 * DOT_R, strokeLinejoin: "round", curve: "linear", clip: true});
}
function runsY(rows, color) { // horizontal runs [y, x1, x2]
  return Plot.ruleY(rows, {y: d => d[0], x1: d => d[1], x2: d => d[2], stroke: color || "black", strokeWidth: 2 * DOT_R, strokeLinecap: "round", clip: true});
}
function runsX(rows) { // vertical runs [x, y1, y2]
  return Plot.ruleX(rows, {x: d => d[0], y1: d => d[1], y2: d => d[2], stroke: "black", strokeWidth: 2 * DOT_R, strokeLinecap: "round", clip: true});
}

// ---- strips ----
variables.forEach((v, i) => {
  const d = document.createElement("div");
  d.className = "strip"; d.textContent = v;
  Object.assign(d.style, {left: s(COL_X[i]) + "px", top: s(23) + "px", width: s(PW) + "px", height: s(70) + "px"});
  root.appendChild(d);
  const e = document.createElement("div");
  e.className = "strip v"; e.textContent = v;
  Object.assign(e.style, {left: s(COL_X[5] + PW) + "px", top: s(ROW_Y[i]) + "px", width: s(70) + "px", height: s(PH) + "px"});
  root.appendChild(e);
});

// ---- [1,1] bar chart ----
const barY = {domain: [-2131, 44751], major: ticks_count_bar, minor: [5000,15000,25000,35000]};
mountPanel({x: COL_X[0], y: ROW_Y[0], left: true, xDomain: [0.4, 2.6], yDomain: barY.domain, marks: [
  Plot.frame({fill: BG, stroke: "none"}),
  ...gridMarks({major: [1, 2]}, barY),
  Plot.rect(authorCounts, {x1: (d, i) => i + 1 - 0.45, x2: (d, i) => i + 1 + 0.45, y1: 0, y2: d => d, fill: "black", fillOpacity: 0.4}),
  axLeft(barY)
]});

// ---- row 1 boxplots ----
variables.slice(1).forEach((v, k) => {
  const c = k + 1;
  const [stats, runs, outs] = boxes[v];
  const outPts = outs.flatMap((arr, i) => arr.map(x => [x, i + 1]));
  const runRows = runs.map((r, i) => [i + 1, r[0], r[1]]);
  mountPanel({x: COL_X[c], y: ROW_Y[0], xDomain: xVar[v].domain, yDomain: [0.4, 2.6], yReverse: true, marks: [
    Plot.frame({fill: BG, stroke: "none"}),
    ...gridMarks(xVar[v], {major: [1, 2]}),
    Plot.ruleY(stats, {y: (d, i) => i + 1, x1: d => d[2], x2: d => d[4], stroke: "#333333", strokeWidth: s(4)}),
    Plot.ruleY(stats, {y: (d, i) => i + 1, x1: d => d[3], x2: d => d[0], stroke: "#333333", strokeWidth: s(4)}),
    Plot.rect(stats, {x1: d => d[0], x2: d => d[2], y1: (d, i) => i + 1 - 0.375, y2: (d, i) => i + 1 + 0.375, fill: "white", fillOpacity: 0.5, stroke: "#333333", strokeWidth: s(4)}),
    Plot.ruleX(stats, {x: d => d[1], y1: (d, i) => i + 1 - 0.375, y2: (d, i) => i + 1 + 0.375, stroke: "#333333", strokeWidth: s(7)}),
    runsY(runRows, "#2A2A2A"),
    dots(outPts, "#333333")
  ]});
});

// ---- column 1 histograms (rows 2-6) ----
variables.slice(1).forEach((v, k) => {
  const r = k + 1;
  const w = binWidth[v];
  [0, 1].forEach(f => {
    const counts = hists[v][f];
    const marks = [
      Plot.frame({fill: BG, stroke: "none"}),
      ...gridMarks(countScale[v], yHist[v]),
      Plot.rect(counts, {y1: (d, i) => i * w - w / 2, y2: (d, i) => i * w + w / 2, x1: 0, x2: d => d, fill: "black", fillOpacity: 0.4, filter: d => d > 0})
    ];
    if (f === 0) marks.push(axLeft(yHist[v]));
    if (r === 5) marks.push(axBottom(countScale[v]));
    mountPanel({x: COL_X[0] + f * (FW + FGAP), y: ROW_Y[r], w: FW, left: f === 0, bottom: r === 5, xDomain: countScale[v].domain, yDomain: yHist[v].domain, marks});
  });
});

// ---- diagonal densities ----
variables.slice(1).forEach((v, k) => {
  const i = k + 1;
  const M = densMax[v];
  const [maj, mn] = densTicks[v];
  const marks = [
    Plot.frame({fill: BG, stroke: "none"}),
    ...gridMarks(xVar[v], {major: maj, minor: mn}),
    Plot.line(dens[v], {x: d => d[0], y: d => d[1], stroke: "black", strokeWidth: s(5), clip: true})
  ];
  if (i === 5) marks.push(axBottom(xVar[v]));
  mountPanel({x: COL_X[i], y: ROW_Y[i], bottom: i === 5, xDomain: xVar[v].domain, yDomain: [-0.05 * M, 1.05 * M], marks});
});

// ---- upper triangle correlations ----
corrPairs.forEach(([r, c], j) => {
  mountPanel({x: COL_X[c], y: ROW_Y[r], xDomain: [0, 1], yDomain: [0, 1], marks: [
    Plot.frame({fill: "white", stroke: "#E6E6E6", strokeWidth: s(3)}),
    Plot.text(["Corr:"], {frameAnchor: "middle", text: d => d, dy: -s(31), fontFamily: MONO, fontSize: s(45.8), fill: "#595959"}),
    Plot.text([corrValues[j]], {frameAnchor: "middle", text: d => d.toFixed(3) + "***", dy: s(34), fontFamily: MONO, fontSize: s(45.8), fill: "#595959"})
  ]});
});

// ---- lower triangle scatter plots ----
const scatters = [
  {r: 2, c: 1, pts: pts_cr_pn, coresX: [core_cr_pn], runsH: runs_cr_pn},
  {r: 3, c: 1, pts: pts_cit_pn, coresY: [core_cit_pn], halosY: [halo_cit_pn]},
  {r: 3, c: 2, pts: pts_cit_cr, coresY: [core_cit_cr], halosY: [halo_cit_cr], runsV: runs_cit_cr},
  {r: 4, c: 1, pts: pts_cd_pn, coresX: [core_cd_pn], halosX: [halo_cd_pn]},
  {r: 4, c: 2, pts: pts_cd_cr, coresY: [core_cd_cr], halosY: [halo_cd_cr], runsV: runs_cd_cr},
  {r: 4, c: 3, pts: pts_cd_cit, coresX: [core_cd_cit], halosX: [halo_cd_cit]},
  {r: 5, c: 1, pts: pts_cdi_pn, coresX: [core_cdi_pn], halosX: [halo_cdi_pn]},
  {r: 5, c: 2, pts: pts_cdi_cr, coresY: [core_cdi_cr], halosY: [halo_cdi_cr], runsV: runs_cdi_cr},
  {r: 5, c: 3, pts: pts_cdi_cit, coresX: [core_cdi_cit], halosX: [halo_cdi_cit]},
  {r: 5, c: 4, pts: pts_cdi_cd, coresX: [core_cdi_cd], halosX: [halo_cdi_cd]}
];
scatters.forEach(o => {
  const xv = variables[o.c], yv = variables[o.r];
  const marks = [Plot.frame({fill: BG, stroke: "none"}), ...gridMarks(xVar[xv], xVar[yv])];
  (o.halosX || []).forEach(h => marks.push(coreX(h, HALO_OP)));
  (o.halosY || []).forEach(h => marks.push(coreY(h, HALO_OP)));
  marks.push(dots(o.pts));
  (o.coresX || []).forEach(h => marks.push(coreX(h, 1)));
  (o.coresY || []).forEach(h => marks.push(coreY(h, 1)));
  if (o.runsH) marks.push(runsY(o.runsH));
  if (o.runsV) marks.push(runsX(o.runsV));
  if (o.r === 5) marks.push(axBottom(xVar[xv]));
  mountPanel({x: COL_X[o.c], y: ROW_Y[o.r], bottom: o.r === 5, xDomain: xVar[xv].domain, yDomain: xVar[yv].domain, marks});
});
</script></body></html>
